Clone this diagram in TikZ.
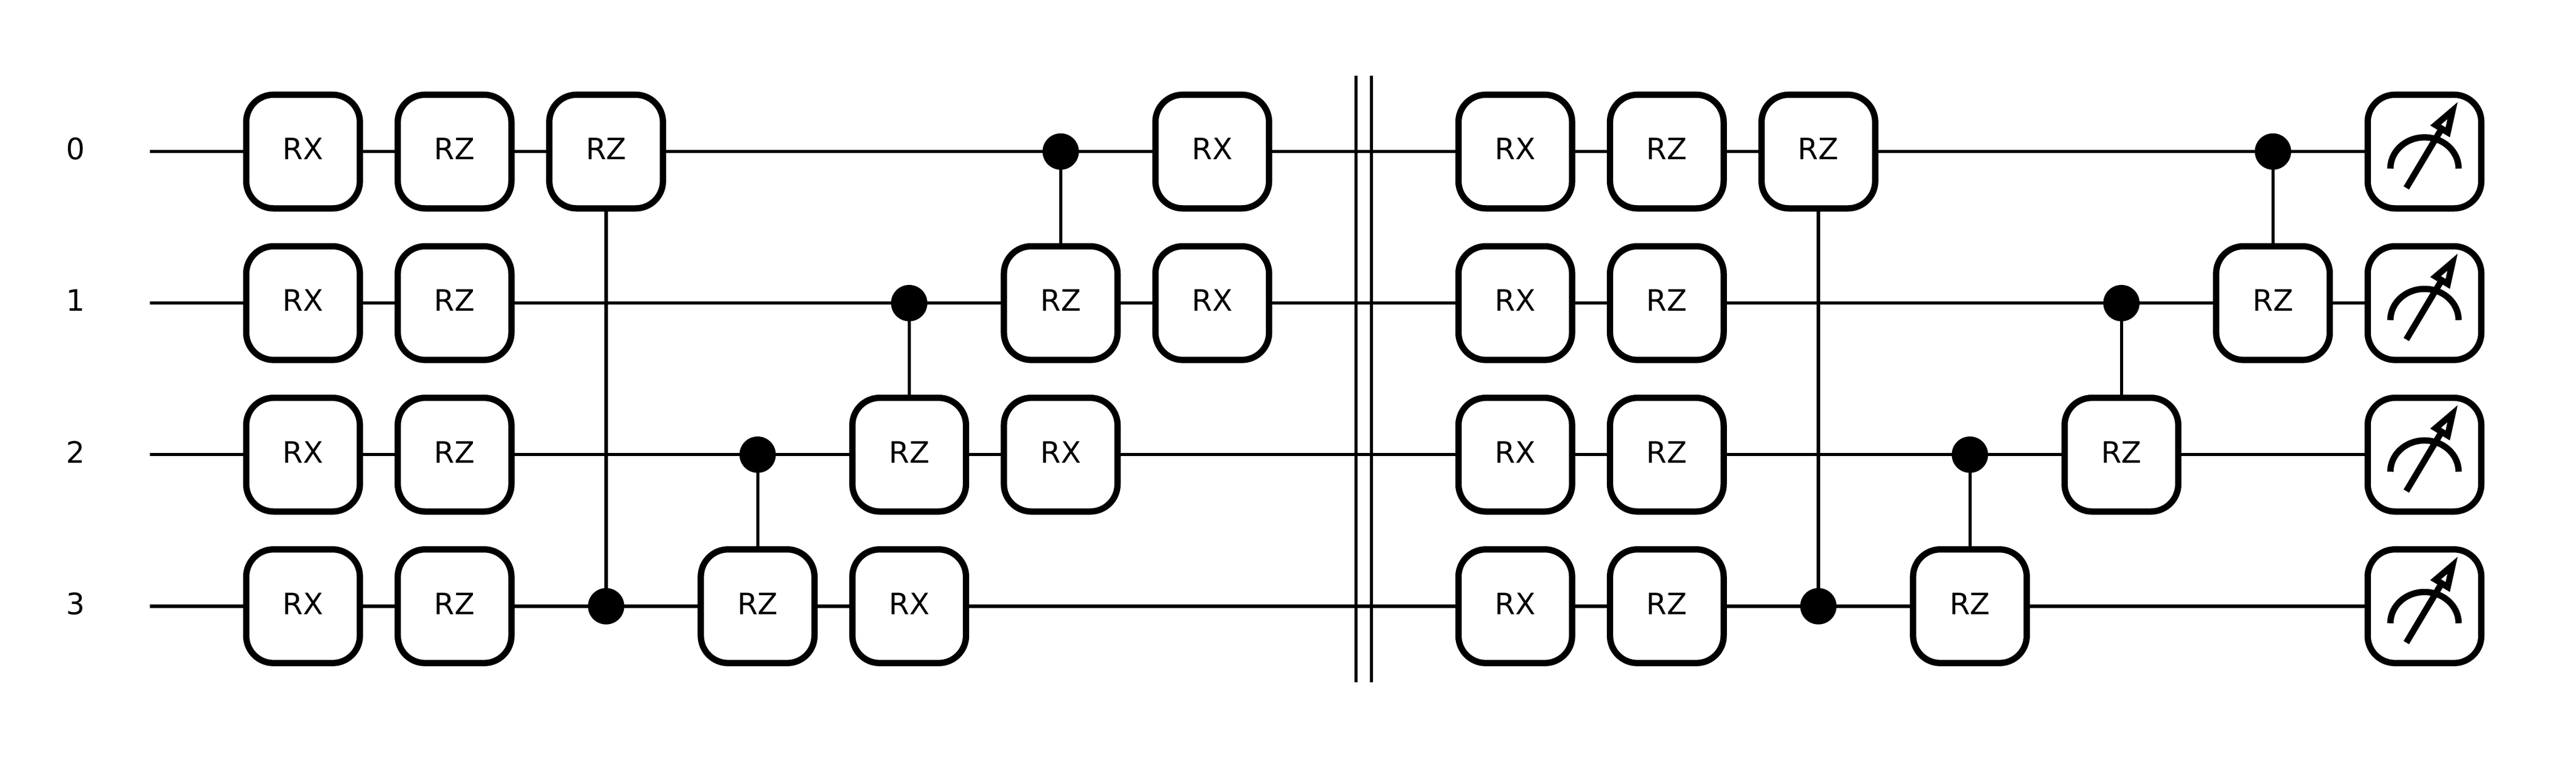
\documentclass[tikz,border=0pt]{standalone}
\usepackage{fontspec}
\setmainfont{DejaVu Sans}
\tikzset{
  wire/.style={line width=1.5bp, line cap=rect},
  gate/.style={draw, fill=white, line width=3bp, rectangle, rounded corners=.18in,
    minimum width=.75in, minimum height=.75in, inner sep=0pt, outer sep=0pt,
    font=\fontsize{14bp}{14bp}\selectfont, text height=10.2bp, text depth=2.5bp},
  ctrl/.style={circle, fill=black, minimum size=.24in, inner sep=0pt, outer sep=0pt},
  wirelabel/.style={font=\fontsize{14bp}{14bp}\selectfont, text height=10.2bp, text depth=2.5bp, inner sep=0pt},
  meter/.style={gate, text height=0pt, text depth=0pt, path picture={
    \begin{scope}[shift={(path picture bounding box.center)}, line width=3bp, sharp corners]
    \draw (-.225,-.1125) arc[start angle=180, end angle=0, x radius=.225, y radius=.20625];
    \draw (-.12,-.24) -- (.1133,.151);
    \draw[miter limit=10] (.185,.27) -- (.0733,.175) -- (.1533,.1267) -- cycle;
    \end{scope}}}
}
\begin{document}
\begin{tikzpicture}[x=1in, y=1in]
\useasboundingbox (0,0) rectangle (17,5);
% wire labels and free wire ends
\node[wirelabel] (l0) at (.5,4) {0};
\node[wirelabel] (l1) at (.5,3) {1};
\node[wirelabel] (l2) at (.5,2) {2};
\node[wirelabel] (l3) at (.5,1) {3};
\coordinate (s0) at (1,4);
\coordinate (s1) at (1,3);
\coordinate (s2) at (1,2);
\coordinate (s3) at (1,1);

% first block
\node[gate] (a0) at (2,4) {RX};
\node[gate] (a1) at (2,3) {RX};
\node[gate] (a2) at (2,2) {RX};
\node[gate] (a3) at (2,1) {RX};
\node[gate] (b0) at (3,4) {RZ};
\node[gate] (b1) at (3,3) {RZ};
\node[gate] (b2) at (3,2) {RZ};
\node[gate] (b3) at (3,1) {RZ};
\node[gate] (c0) at (4,4) {RZ};
\node[ctrl] (c3) at (4,1) {};
\node[ctrl] (d2) at (5,2) {};
\node[gate] (d3) at (5,1) {RZ};
\node[ctrl] (e1) at (6,3) {};
\node[gate] (e2) at (6,2) {RZ};
\node[gate] (e3) at (6,1) {RX};
\node[ctrl] (f0) at (7,4) {};
\node[gate] (f1) at (7,3) {RZ};
\node[gate] (f2) at (7,2) {RX};
\node[gate] (g0) at (8,4) {RX};
\node[gate] (g1) at (8,3) {RX};

% second block
\node[gate] (h0) at (10,4) {RX};
\node[gate] (h1) at (10,3) {RX};
\node[gate] (h2) at (10,2) {RX};
\node[gate] (h3) at (10,1) {RX};
\node[gate] (i0) at (11,4) {RZ};
\node[gate] (i1) at (11,3) {RZ};
\node[gate] (i2) at (11,2) {RZ};
\node[gate] (i3) at (11,1) {RZ};
\node[gate] (j0) at (12,4) {RZ};
\node[ctrl] (j3) at (12,1) {};
\node[ctrl] (k2) at (13,2) {};
\node[gate] (k3) at (13,1) {RZ};
\node[ctrl] (m1) at (14,3) {};
\node[gate] (m2) at (14,2) {RZ};
\node[ctrl] (n0) at (15,4) {};
\node[gate] (n1) at (15,3) {RZ};
\node[meter] (z0) at (16,4) {};
\node[meter] (z1) at (16,3) {};
\node[meter] (z2) at (16,2) {};
\node[meter] (z3) at (16,1) {};

% wires
\draw[wire] (s0) -- (a0) -- (b0) -- (c0) -- (f0) -- (g0) -- (h0) -- (i0) -- (j0) -- (n0) -- (z0);
\draw[wire] (s1) -- (a1) -- (b1) -- (e1) -- (f1) -- (g1) -- (h1) -- (i1) -- (m1) -- (n1) -- (z1);
\draw[wire] (s2) -- (a2) -- (b2) -- (d2) -- (e2) -- (f2) -- (h2) -- (i2) -- (k2) -- (m2) -- (z2);
\draw[wire] (s3) -- (a3) -- (b3) -- (c3) -- (d3) -- (e3) -- (h3) -- (i3) -- (j3) -- (k3) -- (z3);

% controls
\draw[wire] (c3) -- (c0);
\draw[wire] (d2) -- (d3);
\draw[wire] (e1) -- (e2);
\draw[wire] (f0) -- (f1);
\draw[wire] (j3) -- (j0);
\draw[wire] (k2) -- (k3);
\draw[wire] (m1) -- (m2);
\draw[wire] (n0) -- (n1);

% barrier
\coordinate (p0) at (8.95,4.5);
\coordinate (p1) at (8.95,.5);
\coordinate (q0) at (9.05,4.5);
\coordinate (q1) at (9.05,.5);
\draw[line width=1.5bp] (p0) -- (p1);
\draw[line width=1.5bp] (q0) -- (q1);
\end{tikzpicture}
\end{document}
